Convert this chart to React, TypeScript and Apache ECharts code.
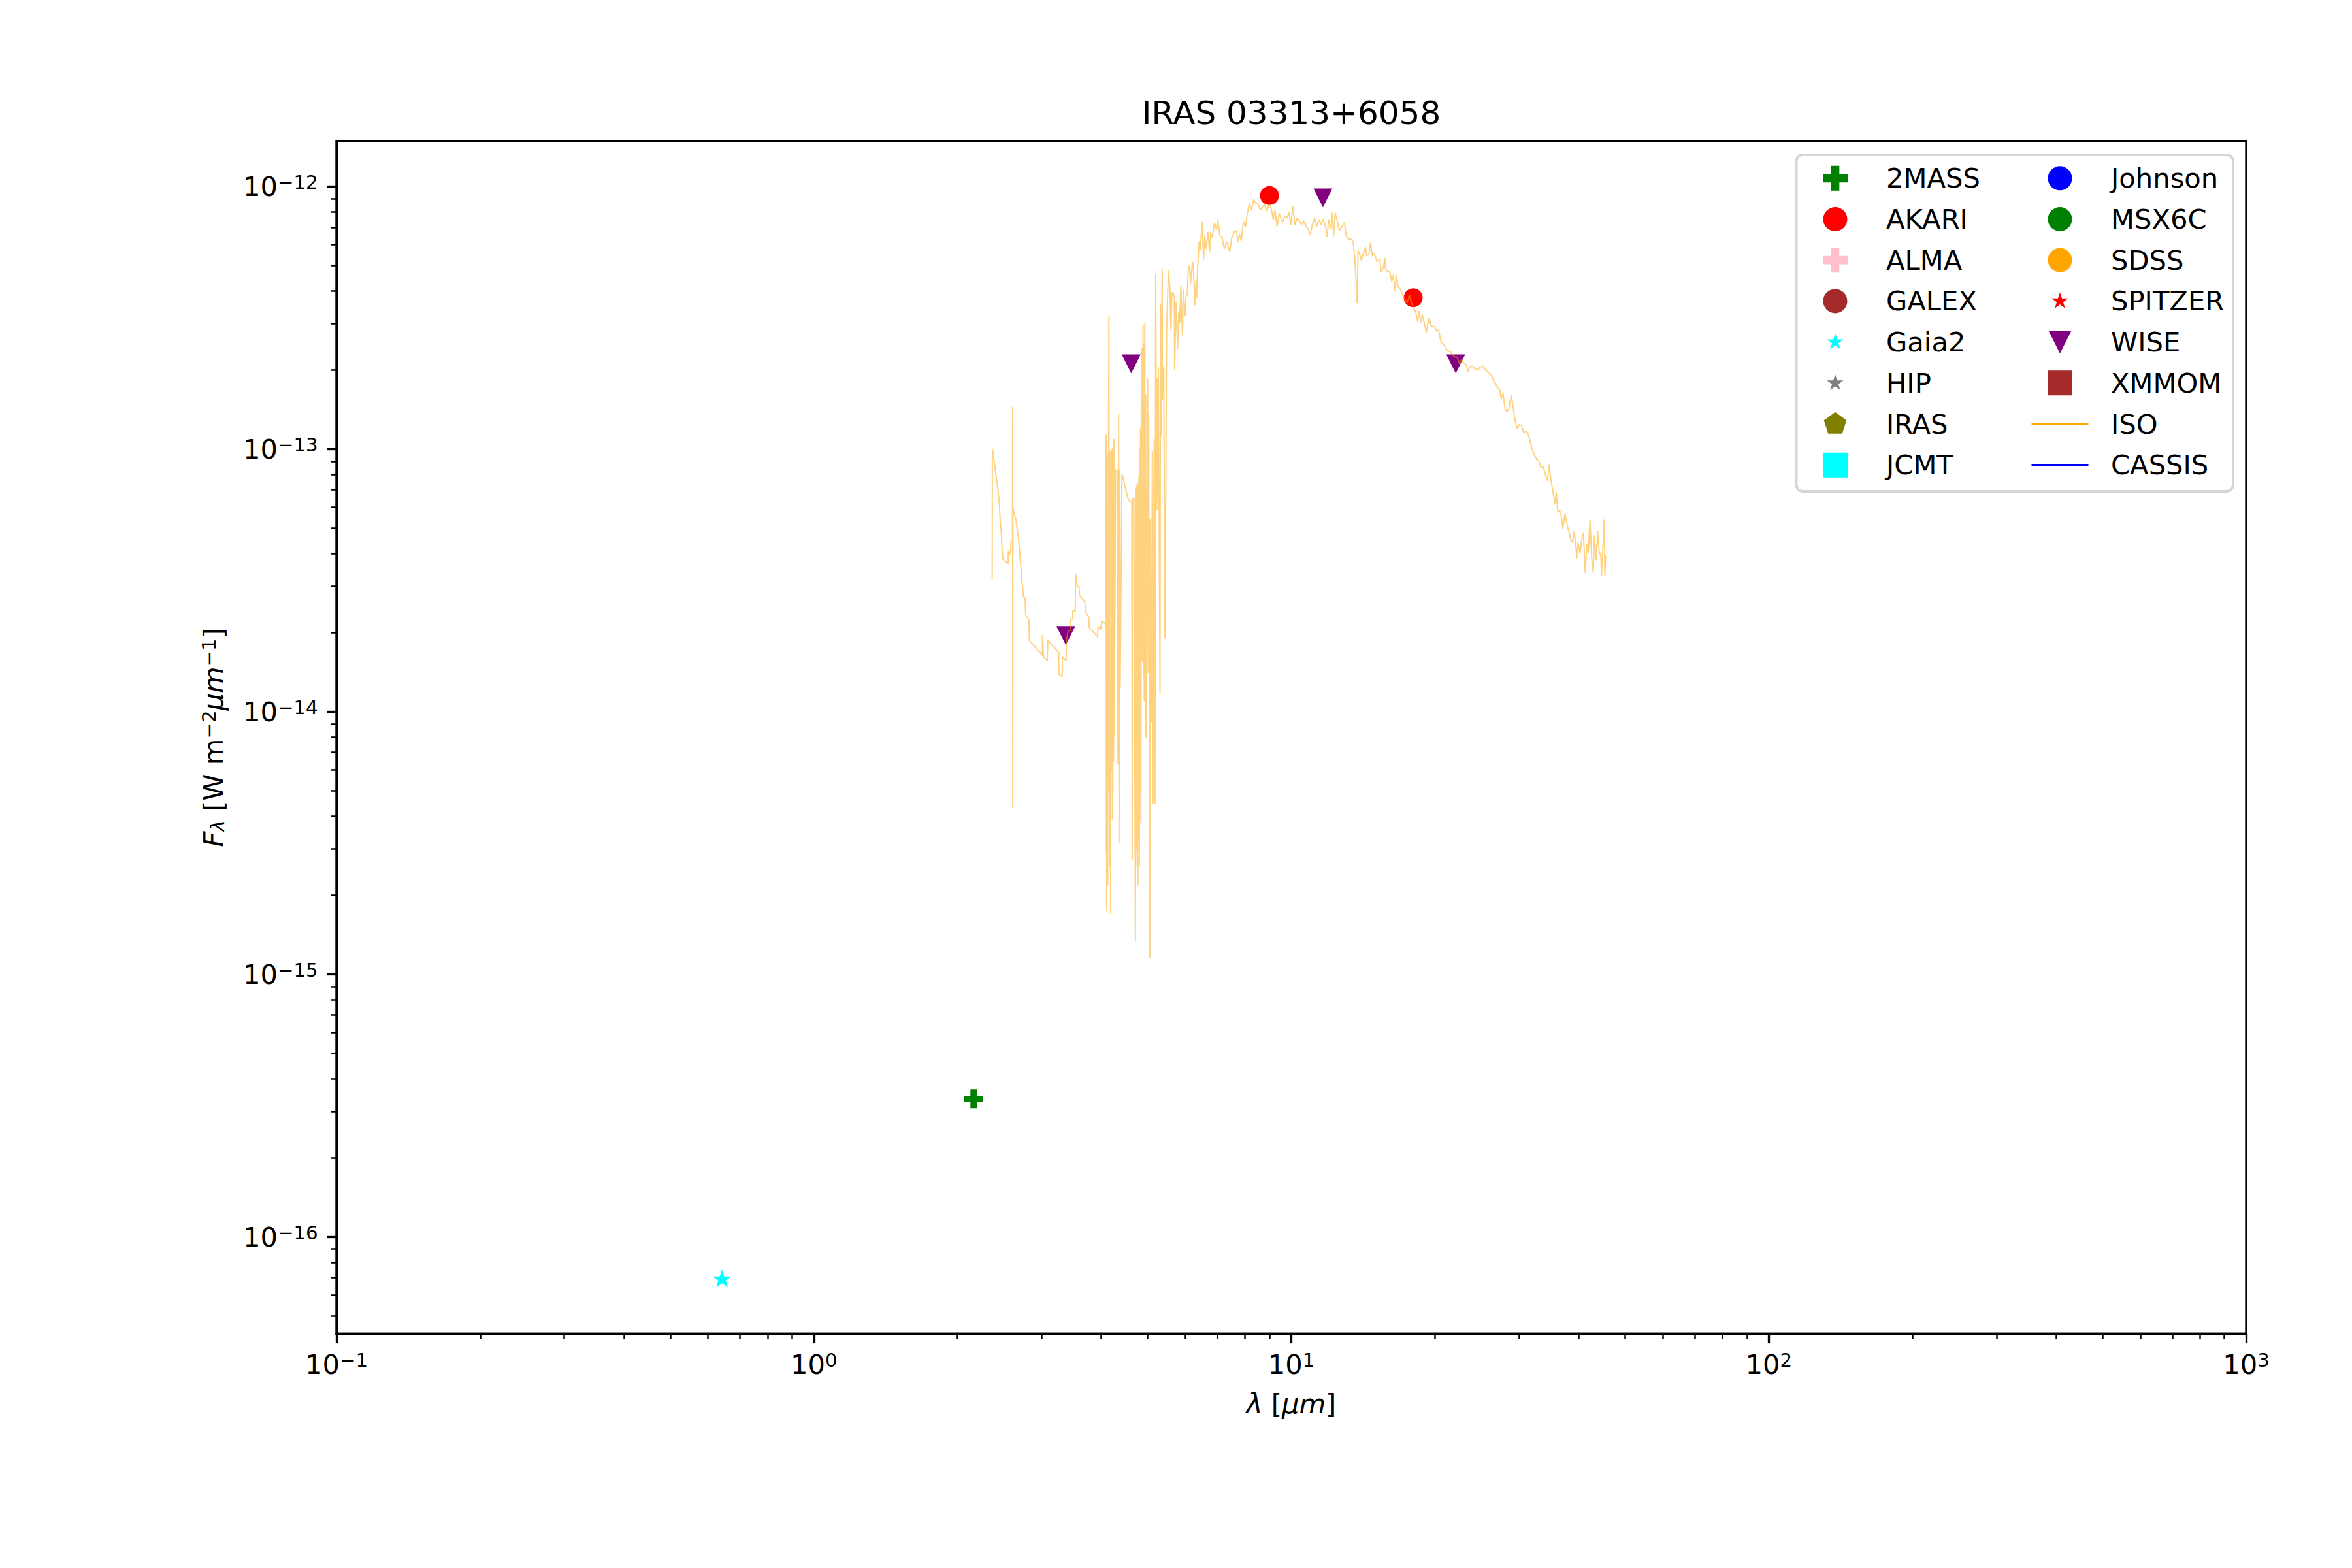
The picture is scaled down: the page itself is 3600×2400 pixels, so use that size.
import React, { useEffect, useRef } from "react";
import * as echarts from "echarts";

// ---------- data ----------
const chartTitle = "IRAS 03313+6058";
const xRange = [0.1, 1000];
const yRange = [4.28e-17, 1.489e-12];
const xTickValues = [0.1, 1, 10, 100, 1000];
const yTickValues = [1e-16, 1e-15, 1e-14, 1e-13, 1e-12];

// photometry [wavelength um, flux W m^-2 um^-1]
const twoMass = [[2.16, 3.36e-16]];
const akari = [[9.0, 9.24e-13], [18.0, 3.77e-13]];
const gaia2 = [[0.642, 6.95e-17]];
const wise = [[3.37, 1.95e-14], [4.62, 2.11e-13], [11.65, 9.05e-13], [22.1, 2.11e-13]];

// ISO spectrum
const isoShort = [
  [2.363, 3.2e-14], [2.365, 1.0e-13], [2.378, 9.44e-14], [2.391, 8.76e-14], [2.415, 7.6e-14],
  [2.429, 7.05e-14], [2.441, 6.43e-14], [2.449, 5.97e-14], [2.454, 5.45e-14], [2.467, 4.93e-14],
  [2.475, 4.33e-14], [2.488, 3.82e-14], [2.551, 3.65e-14], [2.554, 4.07e-14], [2.579, 3.99e-14],
  [2.587, 4.46e-14], [2.605, 4.46e-14], [2.607, 1.44e-13], [2.609, 4.34e-15], [2.611, 6.04e-14],
  [2.628, 5.61e-14], [2.647, 5.45e-14], [2.664, 5.0e-14], [2.683, 4.56e-14], [2.698, 4.07e-14],
  [2.712, 3.63e-14], [2.726, 3.19e-14], [2.749, 2.74e-14], [2.769, 2.7e-14], [2.778, 2.32e-14],
  [2.821, 2.23e-14], [2.827, 1.87e-14], [3.01, 1.64e-14], [3.012, 1.95e-14], [3.028, 1.62e-14],
  [3.082, 1.57e-14], [3.091, 1.87e-14], [3.258, 1.68e-14], [3.26, 1.39e-14], [3.31, 1.36e-14],
  [3.317, 1.62e-14], [3.373, 1.57e-14], [3.381, 1.87e-14], [3.408, 2.04e-14], [3.441, 2.04e-14],
  [3.451, 2.25e-14], [3.481, 2.25e-14], [3.488, 2.44e-14], [3.526, 2.41e-14], [3.534, 3.33e-14],
  [3.556, 3.04e-14], [3.593, 2.98e-14], [3.601, 2.77e-14], [3.696, 2.62e-14], [3.708, 2.39e-14],
  [3.766, 2.29e-14], [3.775, 2.09e-14], [3.928, 1.93e-14], [3.937, 2.11e-14], [3.986, 2.05e-14],
  [4.007, 2.22e-14], [4.084, 2.15e-14],
];
const isoBand = [
  [4.094, 1.13e-13], [4.097, 2.9e-15], [4.101, 1.05e-13], [4.105, 1.75e-15], [4.11, 9.8e-14],
  [4.114, 3.5e-15], [4.12, 9.13e-14], [4.125, 2.2e-15], [4.131, 9.5e-14], [4.137, 5.0e-15],
  [4.143, 1.1e-13], [4.149, 3.22e-13], [4.159, 9.23e-15], [4.165, 8.0e-14], [4.17, 2.6e-15],
  [4.176, 9.8e-14], [4.183, 1.71e-15], [4.192, 9.66e-14], [4.198, 6.0e-15], [4.205, 8.71e-14],
  [4.212, 1.0e-13], [4.219, 3.9e-15], [4.224, 9.0e-14], [4.228, 4.97e-15], [4.236, 9.4e-14],
  [4.241, 6.5e-15], [4.249, 1.09e-13], [4.259, 8.09e-15], [4.285, 8.32e-14], [4.326, 8.32e-14],
  [4.335, 6.32e-15], [4.349, 1.36e-13], [4.357, 3.16e-15], [4.367, 8.3e-14], [4.381, 1.24e-14],
  [4.418, 8.0e-14], [4.437, 7.86e-14], [4.507, 6.93e-14], [4.56, 6.4e-14], [4.633, 6.25e-14],
  [4.642, 2.74e-15], [4.652, 6.47e-14], [4.681, 6.5e-14], [4.715, 1.34e-15], [4.725, 7.0e-14],
  [4.732, 3.0e-15], [4.74, 7.21e-14], [4.755, 2.57e-15], [4.762, 7.5e-14], [4.77, 2.2e-15],
  [4.781, 7.21e-14], [4.79, 3.3e-15], [4.797, 8.0e-14], [4.805, 2.57e-15], [4.815, 1.0e-13],
  [4.824, 5.0e-15], [4.833, 1.2e-13], [4.842, 3.8e-15], [4.851, 1.51e-13], [4.866, 2.42e-13],
  [4.877, 1.55e-14], [4.892, 2.97e-13], [4.903, 1.35e-14], [4.912, 2.5e-13], [4.92, 1.1e-14],
  [4.934, 3.02e-13], [4.943, 1.22e-14], [4.955, 1.6e-13], [4.962, 8.0e-15], [4.968, 7.0e-14],
  [4.974, 9.55e-15], [5.0, 1.86e-13], [5.016, 1.41e-14], [5.027, 1.36e-13], [5.053, 1.16e-15],
  [5.064, 5.42e-14], [5.091, 9.18e-15], [5.117, 9.83e-14], [5.129, 4.48e-15], [5.161, 1.09e-13],
  [5.182, 4.48e-15], [5.199, 4.64e-13], [5.226, 5.9e-14], [5.238, 1.86e-13], [5.265, 5.9e-14],
  [5.268, 2.05e-13], [5.309, 1.17e-14], [5.321, 3.57e-13], [5.338, 1.13e-13], [5.365, 4.83e-13],
  [5.369, 1.54e-13], [5.406, 2.05e-13], [5.433, 1.91e-14], [5.462, 8.86e-14], [5.48, 2.85e-13],
  [5.527, 4.75e-13], [5.567, 4.12e-13], [5.596, 2.85e-13], [5.625, 3.95e-13], [5.686, 3.86e-13],
  [5.697, 2.01e-13], [5.733, 3.63e-13], [5.777, 2.42e-13], [5.806, 3.29e-13], [5.837, 3.02e-13],
  [5.868, 4.19e-13], [5.916, 2.72e-13], [5.942, 4.02e-13], [5.99, 3.22e-13], [6.022, 3.86e-13],
  [6.054, 3.86e-13], [6.085, 4.94e-13], [6.117, 5.0e-13],
];
const isoPeak = [
  [6.15, 4.28e-13], [6.181, 4.8e-13], [6.214, 5.14e-13], [6.249, 4.54e-13], [6.28, 3.55e-13],
  [6.314, 4.36e-13], [6.333, 3.78e-13], [6.368, 5.0e-13], [6.414, 6.15e-13], [6.448, 5.77e-13],
  [6.501, 7.3e-13], [6.551, 5.29e-13], [6.584, 6.51e-13], [6.64, 5.8e-13], [6.688, 6.7e-13],
  [6.745, 5.64e-13], [6.773, 6.7e-13], [6.831, 6.4e-13], [6.902, 7.26e-13], [6.977, 6.89e-13],
  [7.012, 7.47e-13], [7.087, 6.51e-13], [7.161, 6.4e-13], [7.236, 5.8e-13], [7.314, 6.15e-13],
  [7.391, 5.87e-13], [7.43, 5.64e-13], [7.507, 6.4e-13], [7.586, 6.7e-13], [7.668, 6.78e-13],
  [7.748, 6.15e-13], [7.789, 6.58e-13], [7.853, 6.22e-13], [7.938, 7.3e-13], [8.021, 7.05e-13],
  [8.08, 7.82e-13], [8.166, 8.61e-13], [8.252, 8.18e-13], [8.338, 8.92e-13], [8.427, 8.67e-13],
  [8.516, 8.61e-13], [8.605, 8.14e-13], [8.698, 8.37e-13], [8.789, 8.52e-13], [8.88, 8.04e-13],
  [8.976, 8.52e-13], [9.07, 8.28e-13], [9.164, 7.51e-13], [9.235, 8.14e-13], [9.339, 7.05e-13],
  [9.428, 7.91e-13], [9.508, 7.6e-13], [9.589, 7.3e-13], [9.69, 7.68e-13], [9.791, 7.6e-13],
  [9.896, 7.95e-13], [9.968, 7.17e-13], [10.07, 8.37e-13], [10.18, 7.17e-13], [10.29, 7.6e-13],
  [10.39, 7.38e-13], [10.51, 7.17e-13], [10.62, 7.38e-13], [10.73, 7.09e-13], [10.84, 6.89e-13],
  [10.96, 6.58e-13], [11.07, 7.17e-13], [11.19, 7.6e-13], [11.31, 7.05e-13], [11.43, 7.47e-13],
  [11.55, 7.17e-13], [11.67, 7.51e-13], [11.79, 7.05e-13], [11.88, 6.47e-13], [11.98, 7.47e-13],
  [12.11, 6.89e-13], [12.2, 7.95e-13], [12.26, 6.47e-13], [12.36, 7.91e-13], [12.5, 7.3e-13],
  [12.62, 6.78e-13], [12.76, 7.05e-13], [12.92, 7.26e-13], [13.03, 6.51e-13], [13.14, 6.32e-13],
  [13.37, 6.29e-13], [13.48, 6.11e-13], [13.59, 5.29e-13], [13.73, 3.61e-13], [13.8, 5.71e-13],
  [13.95, 5.45e-13], [14.02, 5.24e-13], [14.17, 5.61e-13], [14.29, 5.87e-13], [14.4, 5.45e-13],
  [14.55, 5.54e-13], [14.65, 6.11e-13], [14.78, 5.45e-13], [14.93, 5.54e-13], [15.12, 5.18e-13],
  [15.33, 5.29e-13], [15.41, 4.75e-13], [15.58, 4.89e-13], [15.7, 5.32e-13],
];
const isoTail = [
  [15.74, 4.89e-13], [15.9, 4.75e-13], [16.08, 4.72e-13], [16.24, 4.36e-13], [16.36, 4.59e-13],
  [16.5, 4.0e-13], [16.59, 4.59e-13], [16.73, 4.16e-13], [16.94, 4.05e-13], [17.12, 3.86e-13],
  [17.3, 3.71e-13], [17.48, 3.61e-13], [17.67, 3.86e-13], [17.85, 3.61e-13], [18.04, 3.45e-13],
  [18.24, 3.31e-13], [18.37, 3.07e-13], [18.52, 3.35e-13], [18.66, 3.04e-13], [18.82, 3.25e-13],
  [19.01, 2.99e-13], [19.18, 2.79e-13], [19.42, 3.16e-13], [19.62, 2.95e-13], [19.94, 2.92e-13],
  [20.15, 2.82e-13], [20.36, 2.84e-13], [20.58, 2.56e-13], [20.9, 2.49e-13], [21.23, 2.37e-13],
  [21.57, 2.35e-13], [21.91, 2.25e-13], [22.26, 2.24e-13], [22.49, 2.12e-13], [22.73, 2.19e-13],
  [22.97, 2.13e-13], [23.21, 2.1e-13], [23.46, 1.98e-13], [23.71, 2.06e-13], [23.95, 2.07e-13],
  [24.21, 2.03e-13], [24.6, 2.0e-13], [24.85, 2.05e-13], [25.25, 2.07e-13], [25.51, 2.0e-13],
  [25.92, 1.95e-13], [26.2, 1.92e-13], [26.47, 1.84e-13], [26.75, 1.78e-13], [27.04, 1.71e-13],
  [27.32, 1.69e-13], [27.52, 1.55e-13], [27.75, 1.64e-13], [28.04, 1.42e-13], [28.35, 1.39e-13],
  [28.58, 1.44e-13], [28.89, 1.6e-13], [29.1, 1.47e-13], [29.41, 1.29e-13], [29.72, 1.2e-13],
  [30.03, 1.24e-13], [30.35, 1.23e-13], [30.68, 1.16e-13], [30.99, 1.17e-13], [31.32, 1.15e-13],
  [31.64, 1.065e-13], [31.98, 9.94e-14], [32.31, 9.5e-14], [32.66, 9.13e-14], [33.0, 9.02e-14],
  [33.34, 8.52e-14], [33.7, 8.61e-14], [34.05, 8.0e-14], [34.41, 7.6e-14], [34.67, 8.71e-14],
  [34.96, 7.69e-14], [35.33, 6.85e-14], [35.63, 6.18e-14], [35.89, 6.85e-14], [36.15, 5.77e-14],
  [36.46, 5.87e-14], [36.76, 5.54e-14], [37.04, 5.0e-14], [37.43, 5.67e-14], [37.82, 5.14e-14],
  [38.22, 4.78e-14], [38.5, 4.54e-14], [38.83, 4.41e-14], [39.15, 4.86e-14], [39.45, 4.26e-14],
  [39.65, 3.86e-14], [39.86, 4.41e-14], [40.27, 4.02e-14], [40.58, 4.51e-14], [40.92, 4.78e-14],
  [41.27, 3.39e-14], [41.57, 4.33e-14], [41.88, 4.02e-14], [42.23, 5.36e-14], [42.59, 3.82e-14],
  [42.9, 3.39e-14], [43.12, 4.67e-14], [43.49, 3.8e-14], [43.81, 4.86e-14], [44.12, 4.09e-14],
  [44.5, 3.91e-14], [44.65, 3.29e-14], [44.88, 4.02e-14], [45.22, 5.36e-14], [45.36, 3.3e-14],
  [45.55, 3.93e-14],
];

// legend entries (two columns, as in the reference)
const legendColumn1 = ["2MASS", "AKARI", "ALMA", "GALEX", "Gaia2", "HIP", "IRAS", "JCMT"];
const legendColumn2 = ["Johnson", "MSX6C", "SDSS", "SPITZER", "WISE", "XMMOM", "ISO", "CASSIS"];

// ---------- styling ----------
const FONT = "DejaVu Sans";
const FS = 41.7;
const SUP = 29.2;

const plusPath = "path://M-1,-3L1,-3L1,-1L3,-1L3,1L1,1L1,3L-1,3L-1,1L-3,1L-3,-1L-1,-1Z";
const starPath =
  "path://M0,-1L0.2245,-0.309L0.9511,-0.309L0.3633,0.118L0.5878,0.809L0,0.382L-0.5878,0.809L-0.3633,0.118L-0.9511,-0.309L-0.2245,-0.309Z";
const triDownPath = "path://M-1,-1L1,-1L0,1Z";
const pentagonPath = "path://M0,-1L0.9511,-0.309L0.5878,0.809L-0.5878,0.809L-0.9511,-0.309Z";

// legend icons drawn in a 146 x 42 frame (tiny corner pads fix the frame)
const pad = "M0,0L0.01,0L0,0.01Z M146,42L145.99,42L146,41.99Z ";
const icons: Record<string, string> = {
  plus: "path://" + pad + "M66.67,2L79.33,2L79.33,14.67L92,14.67L92,27.33L79.33,27.33L79.33,40L66.67,40L66.67,27.33L54,27.33L54,14.67L66.67,14.67Z",
  circle: "path://" + pad + "M54.5,21A18.5,18.5,0,1,1,91.5,21A18.5,18.5,0,1,1,54.5,21Z",
  star: "path://" + pad + "M73,7.6L76.01,16.86L85.74,16.86L77.87,22.58L80.88,31.84L73,26.12L65.12,31.84L68.13,22.58L60.26,16.86L69.99,16.86Z",
  tri: "path://" + pad + "M55.5,3.5L90.5,3.5L73,38.5Z",
  pent: "path://" + pad + "M73,2.75L90.36,15.36L83.73,35.76L62.27,35.76L55.64,15.36Z",
  square: "path://" + pad + "M54,2L92,2L92,40L54,40Z",
  line: "path://" + pad + "M29.5,19.2L116.5,19.2L116.5,22.8L29.5,22.8Z",
};

type Style = { color: string; icon: string; symbol?: string; size?: number | number[]; kind: "scatter" | "line" };
const styles: Record<string, Style> = {
  "2MASS": { color: "#008000", icon: "plus", symbol: plusPath, size: 29, kind: "scatter" },
  AKARI: { color: "#ff0000", icon: "circle", symbol: "circle", size: 29, kind: "scatter" },
  ALMA: { color: "#ffc0cb", icon: "plus", symbol: plusPath, size: 29, kind: "scatter" },
  GALEX: { color: "#a52a2a", icon: "circle", symbol: "circle", size: 29, kind: "scatter" },
  Gaia2: { color: "#00ffff", icon: "star", symbol: starPath, size: [29, 27.5], kind: "scatter" },
  HIP: { color: "#808080", icon: "star", symbol: starPath, size: [29, 27.5], kind: "scatter" },
  IRAS: { color: "#808000", icon: "pent", symbol: pentagonPath, size: 29, kind: "scatter" },
  JCMT: { color: "#00ffff", icon: "square", symbol: "rect", size: 29, kind: "scatter" },
  Johnson: { color: "#0000ff", icon: "circle", symbol: "circle", size: 29, kind: "scatter" },
  MSX6C: { color: "#008000", icon: "circle", symbol: "circle", size: 29, kind: "scatter" },
  SDSS: { color: "#ffa500", icon: "circle", symbol: "circle", size: 29, kind: "scatter" },
  SPITZER: { color: "#ff0000", icon: "star", symbol: starPath, size: [29, 27.5], kind: "scatter" },
  WISE: { color: "#800080", icon: "tri", symbol: triDownPath, size: 29, kind: "scatter" },
  XMMOM: { color: "#a52a2a", icon: "square", symbol: "rect", size: 29, kind: "scatter" },
  ISO: { color: "#ffa500", icon: "line", kind: "line" },
  CASSIS: { color: "#0000ff", icon: "line", kind: "line" },
};

const seriesData: Record<string, number[][]> = {
  "2MASS": twoMass,
  AKARI: akari,
  Gaia2: gaia2,
  WISE: wise,
  ISO: [...isoShort, ...isoBand, ...isoPeak, ...isoTail],
};

function minorTicks(lo: number, hi: number): number[] {
  const out: number[] = [];
  for (let e = Math.floor(Math.log10(lo)); e <= Math.ceil(Math.log10(hi)); e++) {
    for (let k = 2; k <= 9; k++) {
      const v = Number((k * Math.pow(10, e)).toPrecision(3));
      if (v >= lo && v <= hi) out.push(v);
    }
  }
  return out;
}

const powLabel = (v: number) => {
  const e = Math.round(Math.log10(v));
  const s = e < 0 ? "\u2212" + String(-e) : String(e);
  return "{b|10}{s|" + s + "}";
};

const labelRich = {
  b: { fontFamily: FONT, fontSize: FS, lineHeight: 42, color: "#000" },
  s: { fontFamily: FONT, fontSize: SUP, lineHeight: 23.8, verticalAlign: "top", color: "#000" },
};

const nameRich = {
  i: { fontFamily: FONT, fontSize: FS, fontStyle: "italic", lineHeight: 42, color: "#000" },
  r: { fontFamily: FONT, fontSize: FS, lineHeight: 42, color: "#000" },
  sub: { fontFamily: FONT, fontSize: SUP, fontStyle: "italic", lineHeight: 22.2, verticalAlign: "bottom", color: "#000" },
  sup: { fontFamily: FONT, fontSize: SUP, lineHeight: 23.8, verticalAlign: "top", color: "#000" },
};

const GRID = { left: 515, right: 162, top: 216, bottom: 358.5 };

function buildOption() {
  const names = [...legendColumn1, ...legendColumn2];
  const series: any[] = names.map((name) => {
    const st = styles[name];
    const data = seriesData[name] || [];
    if (st.kind === "line") {
      return {
        name,
        type: "line",
        data,
        xAxisIndex: 0,
        yAxisIndex: 0,
        showSymbol: false,
        symbol: "none",
        z: 6,
        color: st.color,
        lineStyle: { color: st.color, width: 2, opacity: name === "ISO" ? 0.5 : 1, join: "round" },
        emphasis: { disabled: true },
        silent: true,
      };
    }
    return {
      name,
      type: "scatter",
      data,
      xAxisIndex: 0,
      yAxisIndex: 0,
      symbol: st.symbol,
      symbolSize: st.size,
      z: 3,
      color: st.color,
      itemStyle: { color: st.color, opacity: 1 },
      emphasis: { disabled: true },
      silent: true,
    };
  });

  const legendCommon = {
    orient: "vertical",
    top: 251.8,
    padding: 0,
    itemWidth: 146,
    itemHeight: 42,
    itemGap: 20.7,
    selectedMode: false,
    symbolKeepAspect: true,
    textStyle: { fontFamily: FONT, fontSize: FS, color: "#000", lineHeight: 42 },
  };
  const legendItems = (col: string[]) =>
    col.map((name) => ({ name, icon: icons[styles[name].icon], itemStyle: { color: styles[name].color, opacity: 1, borderWidth: 0 } }));

  const axisLineStyle = { color: "#000", width: 3.33 };

  return {
    animation: false,
    backgroundColor: "#ffffff",
    textStyle: { fontFamily: FONT },
    title: {
      text: chartTitle,
      left: (GRID.left + (3600 - GRID.right)) / 2,
      top: 148,
      padding: 0,
      textAlign: "center",
      textVerticalAlign: "top",
      textStyle: { fontFamily: FONT, fontSize: 50, fontWeight: "normal", color: "#000", lineHeight: 50 },
    },
    grid: {
      ...GRID,
      show: true,
      borderColor: "#000",
      borderWidth: 3.33,
      backgroundColor: "transparent",
      containLabel: false,
      outerBoundsMode: "none",
    },
    graphic: [
      {
        type: "rect",
        z: 1,
        shape: { x: 2749.5, y: 237, width: 668.5, height: 515, r: 10 },
        style: { fill: "rgba(255,255,255,0.8)", stroke: "#d6d6d6", lineWidth: 4 },
        silent: true,
      },
    ],
    legend: [
      { ...legendCommon, left: 2736, data: legendItems(legendColumn1) },
      { ...legendCommon, left: 3080, data: legendItems(legendColumn2) },
    ],
    xAxis: [
      {
        type: "log",
        logBase: 10,
        min: xRange[0],
        max: xRange[1],
        position: "bottom",
        axisLine: { show: true, onZero: false, lineStyle: axisLineStyle },
        axisTick: { show: true, inside: false, length: 14.6, lineStyle: { color: "#000", width: 3.33 }, customValues: xTickValues },
        axisLabel: {
          show: true,
          customValues: xTickValues,
          margin: 25.6,
          formatter: powLabel,
          rich: labelRich,
          showMinLabel: true,
          showMaxLabel: true,
          hideOverlap: false,
        },
        splitLine: { show: false },
        minorTick: { show: false },
        name: "{i|\u03bb}{r| [}{i|\u03bcm}{r|]}",
        nameLocation: "middle",
        nameGap: 86,
        nameTextStyle: { fontFamily: FONT, fontSize: FS, color: "#000", rich: nameRich },
      },
      {
        type: "log",
        logBase: 10,
        min: xRange[0],
        max: xRange[1],
        position: "bottom",
        axisLine: { show: false, onZero: false },
        axisTick: { show: true, inside: false, length: 8.3, lineStyle: { color: "#000", width: 2.5 }, customValues: minorTicks(xRange[0], xRange[1]) },
        axisLabel: { show: false },
        splitLine: { show: false },
      },
    ],
    yAxis: [
      {
        type: "log",
        logBase: 10,
        min: yRange[0],
        max: yRange[1],
        position: "left",
        axisLine: { show: true, onZero: false, lineStyle: axisLineStyle },
        axisTick: { show: true, inside: false, length: 14.6, lineStyle: { color: "#000", width: 3.33 }, customValues: yTickValues },
        axisLabel: {
          show: true,
          customValues: yTickValues,
          margin: 28.4,
          formatter: powLabel,
          rich: labelRich,
          showMinLabel: true,
          showMaxLabel: true,
          hideOverlap: false,
        },
        splitLine: { show: false },
        minorTick: { show: false },
        name: "{i|F}{sub|\u03bb}{r| [W m}{sup|\u22122}{i|\u03bcm}{sup|\u22121}{r|]}",
        nameLocation: "middle",
        nameRotate: 90,
        nameGap: 167.4,
        nameTextStyle: { fontFamily: FONT, fontSize: FS, color: "#000", rich: nameRich },
      },
      {
        type: "log",
        logBase: 10,
        min: yRange[0],
        max: yRange[1],
        position: "left",
        axisLine: { show: false, onZero: false },
        axisTick: { show: true, inside: false, length: 8.3, lineStyle: { color: "#000", width: 2.5 }, customValues: minorTicks(yRange[0], yRange[1]) },
        axisLabel: { show: false },
        splitLine: { show: false },
      },
    ],
    series,
  };
}

export default function App() {
  const ref = useRef<HTMLDivElement | null>(null);
  useEffect(() => {
    document.body.style.margin = "0";
    if (!ref.current) return;
    const chart = echarts.init(ref.current, null, { renderer: "svg", width: 3600, height: 2400 });
    chart.setOption(buildOption() as any);
    return () => {
      chart.dispose();
    };
  }, []);
  return <div ref={ref} style={{ width: 3600, height: 2400, background: "#fff" }} />;
}
